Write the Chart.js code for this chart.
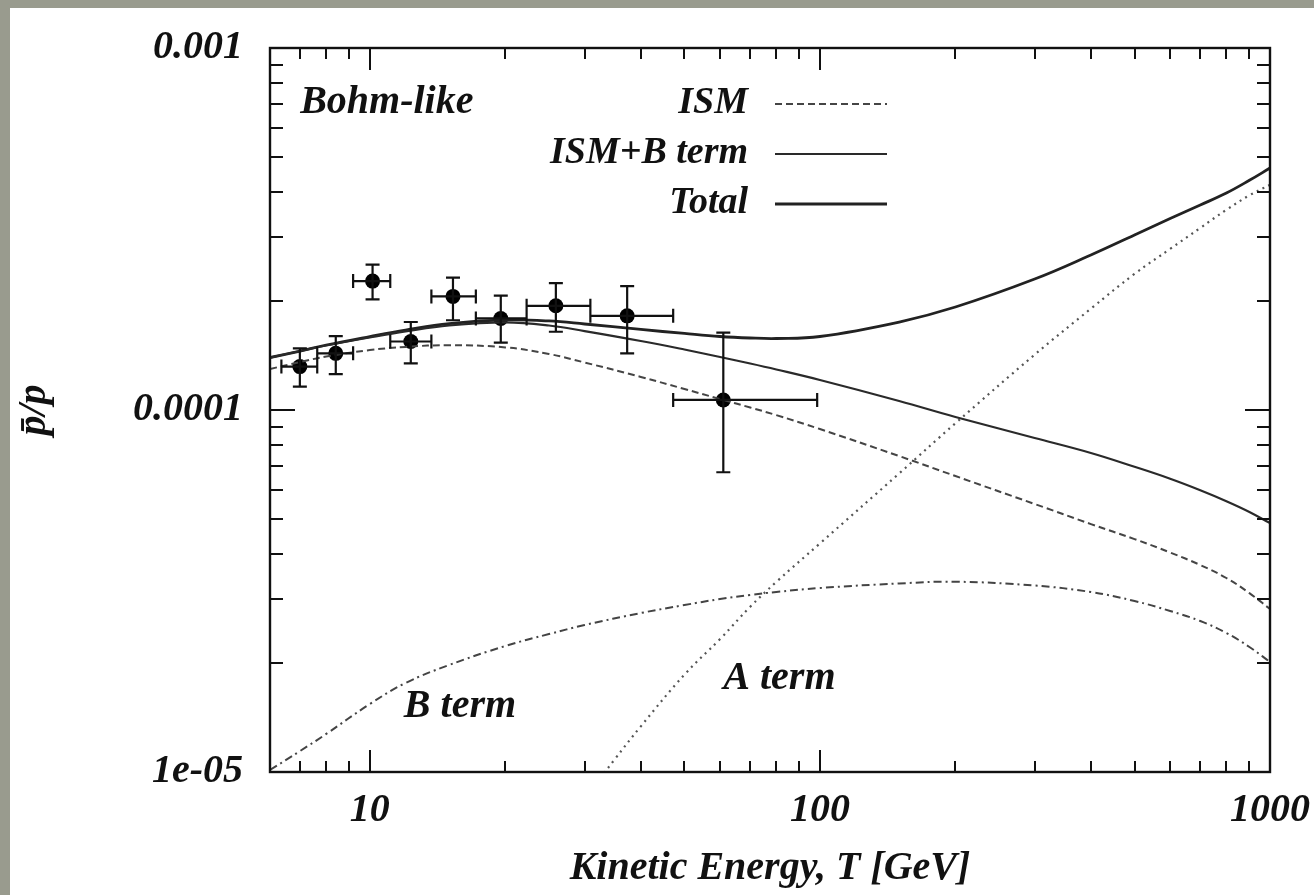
<!DOCTYPE html>
<html><head><meta charset="utf-8">
<script src="https://cdn.jsdelivr.net/npm/chart.js@4.4.1/dist/chart.umd.min.js"></script>
<style>
html,body{margin:0;padding:0;background:#999b8e;width:1314px;height:895px;overflow:hidden}
#panel{position:absolute;left:10px;top:8px;width:1304px;height:887px;background:#fff}
canvas{display:block}
</style></head><body>
<div id="panel"><canvas id="c" width="1304" height="887"></canvas></div>
<script>
// ---------------- data ----------------
const energyGeV   = [6,7,8,10,12,15,20,25,30,40,50,60,70,80,100,150,200,300,400,500,600,700,800,900,1000];
const ismRatio    = [1.298e-4,1.357e-4,1.405e-4,1.464e-4,1.494e-4,1.510e-4,1.489e-4,1.428e-4,1.353e-4,1.234e-4,1.143e-4,1.072e-4,1.016e-4,9.68e-5,8.86e-5,7.46e-5,6.57e-5,5.50e-5,4.84e-5,4.40e-5,4.04e-5,3.73e-5,3.435e-5,3.12e-5,2.82e-5];
const ismBRatio   = [1.396e-4,1.455e-4,1.507e-4,1.586e-4,1.648e-4,1.712e-4,1.745e-4,1.712e-4,1.652e-4,1.551e-4,1.469e-4,1.401e-4,1.344e-4,1.294e-4,1.210e-4,1.059e-4,9.566e-5,8.37e-5,7.61e-5,6.97e-5,6.46e-5,6.005e-5,5.60e-5,5.23e-5,4.87e-5];
const totalRatio  = [1.396e-4,1.455e-4,1.512e-4,1.596e-4,1.663e-4,1.733e-4,1.773e-4,1.762e-4,1.728e-4,1.669e-4,1.627e-4,1.596e-4,1.581e-4,1.576e-4,1.596e-4,1.750e-4,1.925e-4,2.30e-4,2.68e-4,3.044e-4,3.381e-4,3.684e-4,3.975e-4,4.31e-4,4.66e-4];
const bTermRatio  = [1.013e-5,1.143e-5,1.274e-5,1.541e-5,1.761e-5,1.975e-5,2.229e-5,2.405e-5,2.547e-5,2.749e-5,2.892e-5,3.005e-5,3.083e-5,3.142e-5,3.223e-5,3.317e-5,3.355e-5,3.274e-5,3.142e-5,2.967e-5,2.785e-5,2.613e-5,2.421e-5,2.215e-5,2.013e-5];
const aTermEnergy = [30,35,40,50,60,70,80,100,150,200,300,400,500,600,700,800,900,1000];
const aTermRatio  = [8.43e-6,1.084e-5,1.337e-5,1.858e-5,2.33e-5,2.86e-5,3.35e-5,4.28e-5,6.68e-5,9.19e-5,1.422e-4,1.905e-4,2.377e-4,2.786e-4,3.184e-4,3.573e-4,3.917e-4,4.19e-4];

const pointEnergy     = [6.99,8.40,10.14,12.33,15.3,19.54,25.9,37.3,61.0];
const pointRatio      = [1.318e-4,1.434e-4,2.27e-4,1.546e-4,2.06e-4,1.79e-4,1.94e-4,1.82e-4,1.066e-4];
const pointRatioLow   = [1.16e-4,1.257e-4,2.02e-4,1.346e-4,1.77e-4,1.535e-4,1.645e-4,1.434e-4,6.73e-5];
const pointRatioHigh  = [1.48e-4,1.60e-4,2.52e-4,1.75e-4,2.32e-4,2.07e-4,2.24e-4,2.20e-4,1.635e-4];
const pointEnergyLow  = [6.36,7.64,9.18,11.1,13.7,17.2,22.3,30.9,47.2];
const pointEnergyHigh = [7.64,9.18,11.1,13.7,17.2,22.3,30.9,47.2,98.6];

const xTickValues = [10,100,1000];
const xTickLabels = ['10','100','1000'];
const yTickValues = [1e-5,1e-4,1e-3];
const yTickLabels = ['1e-05','0.0001','0.001'];
const xAxisTitle  = 'Kinetic Energy, T [GeV]';
const yAxisTitle  = 'p\u0304/p';

const legendLabels = ['ISM','ISM+B term','Total'];
const annotationTexts = ['Bohm-like','B term','A term'];
const annotationEnergy = [7.0, 11.9, 61.0];
const annotationRatio  = [7.07e-4, 1.512e-5, 1.807e-5];

// ---------------- styling ----------------
const FAMILY = '"Liberation Serif","Times New Roman",serif';
const FSIZE = 40;
const LEGEND_FSIZE = 38;
const INK = '#111';
const bigFont = {family: FAMILY, size: FSIZE, style: 'italic', weight: 'bold', lineHeight: 1.2};
const fontStr = `italic bold ${FSIZE}px ${FAMILY}`;
const legendFontStr = `italic bold ${LEGEND_FSIZE}px ${FAMILY}`;

const pairs = (xs, ys) => xs.map((x, i) => ({x, y: ys[i]}));
const isDecade = v => Math.abs(Math.log10(v) - Math.round(Math.log10(v))) < 1e-9;

const xMarks = [];
for (let k = 0; k <= 2; k++) for (let d = 1; d <= 9; d++) { const v = d * Math.pow(10, k); if (v >= 6) xMarks.push(v); }
xMarks.push(1000);
const yMarks = [];
for (let k = -5; k <= -4; k++) for (let d = 1; d <= 9; d++) yMarks.push(d * Math.pow(10, k));
yMarks.push(1e-3);

const curveStyles = {
  ism:   {color: '#454545', width: 2,   dash: [7, 4]},
  ismB:  {color: '#2a2a2a', width: 2.2, dash: []},
  total: {color: '#222',    width: 2.8, dash: []},
  aTerm: {color: '#555',    width: 2.2, dash: [2, 4.5]},
  bTerm: {color: '#444',    width: 2,   dash: [8, 4, 2, 4]}
};

function curve(label, data, st) {
  return {label, data, showLine: true, borderColor: st.color, borderWidth: st.width,
    borderDash: st.dash, pointRadius: 0, tension: 0.4, fill: false};
}

const frameAndTicks = {
  id: 'frameAndTicks',
  afterDraw(chart) {
    const {ctx, chartArea: a, scales: {x, y}} = chart;
    ctx.save();
    ctx.strokeStyle = INK; ctx.lineWidth = 2;
    ctx.beginPath();
    for (const v of xMarks) {
      const px = Math.round(x.getPixelForValue(v));
      const len = isDecade(v) ? 22 : 11;
      ctx.moveTo(px, a.bottom); ctx.lineTo(px, a.bottom - len);
      ctx.moveTo(px, a.top); ctx.lineTo(px, a.top + len);
    }
    for (const v of yMarks) {
      const py = Math.round(y.getPixelForValue(v));
      const len = isDecade(v) ? 25 : 13;
      ctx.moveTo(a.left, py); ctx.lineTo(a.left + len, py);
      ctx.moveTo(a.right, py); ctx.lineTo(a.right - len, py);
    }
    ctx.stroke();
    ctx.lineWidth = 2.4;
    ctx.strokeRect(a.left, a.top, a.right - a.left, a.bottom - a.top);
    ctx.restore();
  }
};

const errorBars = {
  id: 'errorBars',
  afterDatasetsDraw(chart) {
    const {ctx, scales: {x, y}} = chart;
    ctx.save();
    ctx.strokeStyle = INK; ctx.lineWidth = 2.2;
    ctx.beginPath();
    const cap = 7;
    pointEnergy.forEach((e, i) => {
      const px = x.getPixelForValue(e), py = y.getPixelForValue(pointRatio[i]);
      const yl = y.getPixelForValue(pointRatioLow[i]), yh = y.getPixelForValue(pointRatioHigh[i]);
      const xl = x.getPixelForValue(pointEnergyLow[i]), xh = x.getPixelForValue(pointEnergyHigh[i]);
      ctx.moveTo(px, yl); ctx.lineTo(px, yh);
      ctx.moveTo(px - cap, yl); ctx.lineTo(px + cap, yl);
      ctx.moveTo(px - cap, yh); ctx.lineTo(px + cap, yh);
      ctx.moveTo(xl, py); ctx.lineTo(xh, py);
      ctx.moveTo(xl, py - cap); ctx.lineTo(xl, py + cap);
      ctx.moveTo(xh, py - cap); ctx.lineTo(xh, py + cap);
    });
    ctx.stroke();
    ctx.restore();
  }
};

const legendAndNotes = {
  id: 'legendAndNotes',
  afterDraw(chart) {
    const {ctx, chartArea: a, scales: {x, y}} = chart;
    ctx.save();
    ctx.fillStyle = INK; ctx.textBaseline = 'middle';
    // legend
    ctx.font = legendFontStr;
    const styles = [curveStyles.ism, curveStyles.ismB, curveStyles.total];
    legendLabels.forEach((lab, i) => {
      const cy = a.top + 55 + i * 50;
      ctx.textAlign = 'right';
      ctx.fillText(lab, a.left + 478, cy);
      const st = styles[i];
      ctx.strokeStyle = st.color; ctx.lineWidth = st.width; ctx.setLineDash(st.dash);
      ctx.beginPath(); ctx.moveTo(a.left + 505, cy + 1); ctx.lineTo(a.left + 617, cy + 1); ctx.stroke();
      ctx.setLineDash([]);
    });
    // annotations
    ctx.font = fontStr;
    ctx.textAlign = 'left';
    annotationTexts.forEach((t, i) => {
      ctx.fillText(t, x.getPixelForValue(annotationEnergy[i]), y.getPixelForValue(annotationRatio[i]));
    });
    ctx.restore();
  }
};

new Chart(document.getElementById('c'), {
  type: 'scatter',
  data: {
    datasets: [
      curve('ISM', pairs(energyGeV, ismRatio), curveStyles.ism),
      curve('ISM+B term', pairs(energyGeV, ismBRatio), curveStyles.ismB),
      curve('Total', pairs(energyGeV, totalRatio), curveStyles.total),
      curve('A term', pairs(aTermEnergy, aTermRatio), curveStyles.aTerm),
      curve('B term', pairs(energyGeV, bTermRatio), curveStyles.bTerm),
      {label: 'data', data: pairs(pointEnergy, pointRatio), showLine: false,
       pointRadius: 7.5, pointBackgroundColor: '#000', pointBorderWidth: 0, pointStyle: 'circle'}
    ]
  },
  options: {
    responsive: false, animation: false, devicePixelRatio: 1,
    layout: {padding: {left: 0, top: 40, right: 44, bottom: 0}},
    plugins: {legend: {display: false}, tooltip: {enabled: false}},
    scales: {
      x: {
        type: 'logarithmic', min: 6, max: 1000, position: 'bottom',
        grid: {display: false, drawTicks: false}, border: {display: false},
        afterBuildTicks: s => { s.ticks = xTickValues.map(v => ({value: v})); },
        afterFit: s => { s.height = 123; s.paddingLeft = 0; s.paddingRight = 0; },
        ticks: {autoSkip: false, maxRotation: 0, padding: 15, font: bigFont, color: INK,
                callback: (v, i) => xTickLabels[i]},
        title: {display: true, text: xAxisTitle, font: bigFont, color: INK, padding: {top: 0, bottom: 2.5}}
      },
      y: {
        type: 'logarithmic', min: 1e-5, max: 1e-3, position: 'left',
        grid: {display: false, drawTicks: false}, border: {display: false},
        afterBuildTicks: s => { s.ticks = yTickValues.map(v => ({value: v})); },
        afterFit: s => { s.width = 260; s.paddingTop = 0; s.paddingBottom = 0; },
        ticks: {autoSkip: false, padding: 27, font: bigFont, color: INK,
                callback: (v, i) => yTickLabels[i]},
        title: {display: true, text: yAxisTitle, font: bigFont, color: INK, padding: {top: 1, bottom: 0}}
      }
    }
  },
  plugins: [errorBars, frameAndTicks, legendAndNotes]
});
</script>
</body></html>
